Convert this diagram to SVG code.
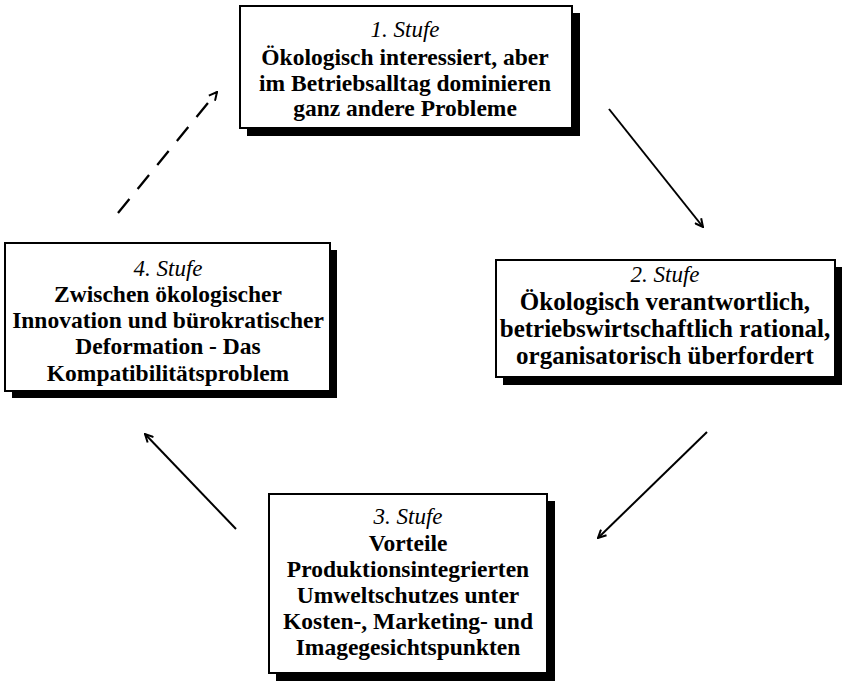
<svg xmlns="http://www.w3.org/2000/svg" width="842" height="681" viewBox="0 0 842 681">
<style>
.shadow{fill:#000;}
.box{fill:#fff;stroke:#000;stroke-width:2;}
.hd{font-family:"Liberation Serif","Times New Roman",serif;font-style:italic;font-size:23px;fill:#000;text-anchor:middle;}
.bd{font-family:"Liberation Serif","Times New Roman",serif;font-weight:bold;font-size:23.5px;fill:#000;text-anchor:middle;}
.bd2{font-size:25px;}
.conn{fill:none;stroke:#000;stroke-width:2;marker-end:url(#arr);}
.dash{stroke-dasharray:18 13;stroke-width:2.3;}
</style>
<defs>
<marker id="arr" viewBox="0 0 10 10" refX="9" refY="5" markerWidth="10" markerHeight="10" markerUnits="userSpaceOnUse" orient="auto">
<path d="M1,1 L9,5 L1,9" fill="none" stroke="#000" stroke-width="2"/>
</marker>
</defs>
<rect width="842" height="681" fill="#fff"/>
<g id="stufe1">
<rect class="shadow" x="247" y="13" width="333" height="123"/>
<rect class="box" x="240" y="6" width="332" height="122"/>
<text class="hd" x="405" y="37">1. Stufe</text>
<text class="bd" x="405" y="65">Ökologisch interessiert, aber</text>
<text class="bd" x="405" y="91">im Betriebsalltag dominieren</text>
<text class="bd" x="405" y="116">ganz andere Probleme</text>
</g>
<g id="stufe2">
<rect class="shadow" x="503" y="267" width="339" height="118"/>
<rect class="box" x="496" y="260" width="339" height="117"/>
<text class="hd" x="665" y="282">2. Stufe</text>
<text class="bd bd2" x="665" y="310">Ökologisch verantwortlich,</text>
<text class="bd bd2" x="665" y="337">betriebswirtschaftlich rational,</text>
<text class="bd bd2" x="665" y="364">organisatorisch überfordert</text>
</g>
<g id="stufe3">
<rect class="shadow" x="276" y="501" width="279" height="180"/>
<rect class="box" x="269" y="494" width="278" height="179"/>
<text class="hd" x="408" y="524">3. Stufe</text>
<text class="bd" x="408" y="551">Vorteile</text>
<text class="bd" x="408" y="577">Produktionsintegrierten</text>
<text class="bd" x="408" y="603">Umweltschutzes unter</text>
<text class="bd" x="408" y="629">Kosten-, Marketing- und</text>
<text class="bd" x="408" y="655">Imagegesichtspunkten</text>
</g>
<g id="stufe4">
<rect class="shadow" x="12" y="250" width="325" height="148"/>
<rect class="box" x="5" y="243" width="325" height="148"/>
<text class="hd" x="168" y="276">4. Stufe</text>
<text class="bd" x="168" y="302">Zwischen ökologischer</text>
<text class="bd" x="168" y="328">Innovation und bürokratischer</text>
<text class="bd" x="168" y="354">Deformation - Das</text>
<text class="bd" x="168" y="381">Kompatibilitätsproblem</text>
</g>
<g id="connectors">
<line class="conn" x1="609" y1="109" x2="703" y2="227"/>
<line class="conn" x1="707" y1="432" x2="598" y2="538"/>
<line class="conn" x1="236" y1="529" x2="145" y2="434"/>
<line class="conn dash" x1="118" y1="213" x2="217" y2="92"/>
</g>
</svg>
